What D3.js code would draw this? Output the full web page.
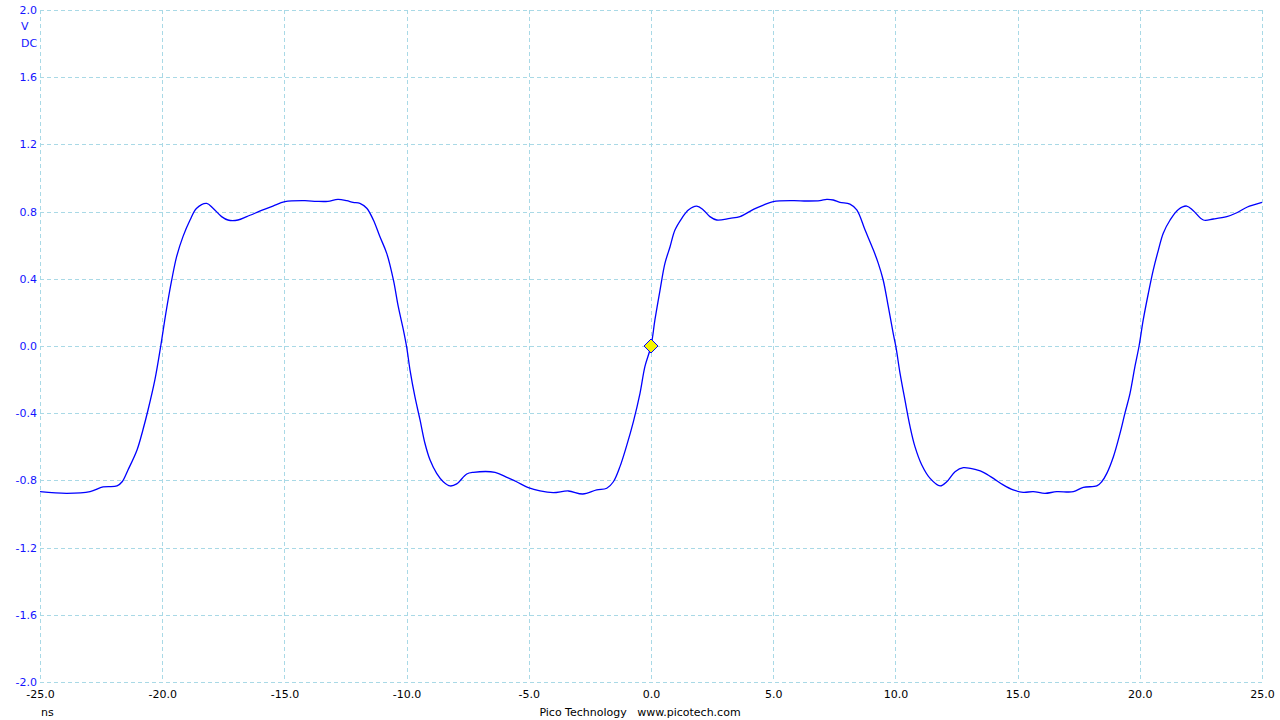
<!DOCTYPE html>
<html>
<head>
<meta charset="utf-8">
<script src="https://cdn.jsdelivr.net/npm/d3@7"></script>
<style>
  html, body { margin: 0; padding: 0; background: #ffffff; }
  svg { display: block; }
</style>
</head>
<body>
<svg id="chart" width="1280" height="720"></svg>
<script>
// ---- data ----
const timeNs = [
  -25.00, -23.90, -22.95, -22.42, -21.85, -21.64, -21.40, -21.03, -20.79, -20.58,
  -20.30, -20.06, -19.85, -19.61, -19.41, -19.15, -18.86, -18.59, -18.18, -17.92,
  -17.57, -17.31, -16.90, -16.54, -15.88, -15.47, -14.98, -14.16, -13.68, -13.22,
  -12.81, -12.45, -12.19, -11.91, -11.63, -11.36, -11.09, -10.81, -10.54, -10.34,
  -10.13, -10.00, -9.86, -9.66, -9.45, -9.25, -9.04, -8.77, -8.50, -8.22,
  -7.95, -7.54, -7.27, -6.38, -5.90, -5.50, -5.02, -4.54, -4.00, -3.38,
  -2.79, -2.22, -1.81, -1.54, -1.27, -0.99, -0.72, -0.45, -0.25, 0.00,
  0.16, 0.37, 0.57, 0.78, 0.98, 1.26, 1.53, 1.87, 2.14, 2.41,
  2.69, 3.23, 3.64, 4.19, 4.60, 5.00, 5.82, 6.37, 6.91, 7.19,
  7.46, 7.73, 8.14, 8.42, 8.76, 9.10, 9.30, 9.50, 9.71, 9.91,
  10.02, 10.19, 10.39, 10.60, 10.80, 11.08, 11.42, 11.83, 12.10, 12.44,
  12.78, 13.33, 13.60, 14.01, 14.41, 14.82, 15.23, 15.64, 16.12, 16.60,
  17.28, 17.69, 18.24, 18.44, 18.65, 18.92, 19.19, 19.39, 19.60, 19.80,
  19.97, 20.14, 20.35, 20.55, 20.76, 20.96, 21.24, 21.58, 21.92, 22.19,
  22.60, 23.01, 23.56, 23.97, 24.38, 25.00
];
const voltsV = [
  -0.867, -0.877, -0.867, -0.839, -0.833, -0.808, -0.738, -0.619, -0.500, -0.381,
  -0.202, 0.000, 0.196, 0.393, 0.532, 0.651, 0.750, 0.820, 0.849, 0.820,
  0.770, 0.750, 0.750, 0.770, 0.810, 0.833, 0.859, 0.865, 0.861, 0.861,
  0.873, 0.865, 0.855, 0.849, 0.820, 0.750, 0.650, 0.550, 0.393, 0.234,
  0.095, -0.004, -0.143, -0.302, -0.440, -0.579, -0.679, -0.758, -0.808, -0.833,
  -0.821, -0.762, -0.752, -0.752, -0.782, -0.808, -0.843, -0.863, -0.873, -0.863,
  -0.881, -0.857, -0.847, -0.808, -0.718, -0.590, -0.450, -0.282, -0.123, 0.000,
  0.155, 0.333, 0.492, 0.591, 0.690, 0.760, 0.810, 0.833, 0.810, 0.770,
  0.750, 0.760, 0.770, 0.813, 0.839, 0.859, 0.865, 0.863, 0.865, 0.873,
  0.869, 0.855, 0.845, 0.810, 0.690, 0.571, 0.492, 0.393, 0.234, 0.075,
  -0.004, -0.163, -0.321, -0.480, -0.599, -0.708, -0.788, -0.833, -0.808, -0.748,
  -0.724, -0.738, -0.752, -0.788, -0.827, -0.857, -0.871, -0.867, -0.877, -0.867,
  -0.867, -0.841, -0.833, -0.808, -0.758, -0.659, -0.520, -0.401, -0.282, -0.123,
  0.000, 0.155, 0.314, 0.452, 0.571, 0.671, 0.750, 0.813, 0.833, 0.805,
  0.750, 0.756, 0.770, 0.793, 0.826, 0.855
];
const xTicks = [-25, -20, -15, -10, -5, 0, 5, 10, 15, 20, 25];
const yTicks = [-2.0, -1.6, -1.2, -0.8, -0.4, 0.0, 0.4, 0.8, 1.2, 1.6, 2.0];
const triggerPoint = [{ t: 0.0, v: 0.0 }];
const xUnit = "ns";
const yUnits = ["V", "DC"];
const footerText = "Pico Technology   www.picotech.com";

// ---- layout ----
const svg = d3.select("#chart");
const plotL = 40, plotR = 1262, plotT = 10, plotB = 682;
const x = d3.scaleLinear().domain([-25, 25]).range([plotL, plotR]);
const y = d3.scaleLinear().domain([-2, 2]).range([plotB, plotT]);
const font = "'DejaVu Sans', Verdana, sans-serif";
const gridColor = "#a9d9e6";
const fmt = d3.formatLocale({ decimal: ".", thousands: ",", grouping: [3], currency: ["", ""], minus: "-" }).format(".1f");

// grid
const grid = svg.append("g").attr("stroke", gridColor).attr("stroke-width", 1)
  .attr("stroke-dasharray", "4,3").attr("shape-rendering", "crispEdges");
grid.selectAll("line.v").data(xTicks).join("line").attr("class", "v")
  .attr("x1", d => Math.round(x(d)) + 0.5).attr("x2", d => Math.round(x(d)) + 0.5)
  .attr("y1", plotT).attr("y2", plotB);
grid.selectAll("line.h").data(yTicks).join("line").attr("class", "h")
  .attr("y1", d => Math.round(y(d)) + 0.5).attr("y2", d => Math.round(y(d)) + 0.5)
  .attr("x1", plotL).attr("x2", plotR);

// y axis labels
const yAxis = d3.axisLeft(y).tickValues(yTicks).tickFormat(fmt).tickSize(0).tickPadding(3);
const gy = svg.append("g").attr("transform", `translate(${plotL},0)`).call(yAxis);
gy.select(".domain").remove();
gy.selectAll("text").attr("fill", "#1414ff").style("font-family", font).style("font-size", "11px");

svg.append("g").selectAll("text").data(yUnits).join("text")
  .attr("x", 21).attr("y", (d, i) => 26 + i * 17).attr("dy", "0.35em")
  .attr("fill", "#1414ff").style("font-family", font).style("font-size", "11px")
  .text(d => d);

// x axis labels
const xAxis = d3.axisBottom(x).tickValues(xTicks).tickFormat(fmt).tickSize(0).tickPadding(8);
const gx = svg.append("g").attr("transform", `translate(0,${plotB})`).call(xAxis);
gx.select(".domain").remove();
gx.selectAll("text").attr("fill", "#000000").style("font-family", font).style("font-size", "11px");

svg.append("text").attr("x", 41).attr("y", 716)
  .attr("fill", "#000").style("font-family", font).style("font-size", "11px").text(xUnit);
svg.append("text").attr("x", 640).attr("y", 716).attr("text-anchor", "middle")
  .attr("fill", "#000").style("font-family", font).style("font-size", "11px")
  .style("white-space", "pre").attr("xml:space", "preserve").text(footerText);

// waveform
const pts = timeNs.map((t, i) => ({ t, v: voltsV[i] }));
const line = d3.line().x(d => x(d.t)).y(d => y(d.v)).curve(d3.curveCatmullRom.alpha(0.5));
svg.append("path").datum(pts).attr("d", line)
  .attr("fill", "none").attr("stroke", "#0000ff").attr("stroke-width", 1.3)
  .attr("stroke-linejoin", "round");

// trigger marker
const s = 7;
svg.append("g").selectAll("path").data(triggerPoint).join("path")
  .attr("d", d => {
    const cx = x(d.t), cy = y(d.v);
    return `M${cx},${cy - s}L${cx + s},${cy}L${cx},${cy + s}L${cx - s},${cy}Z`;
  })
  .attr("fill", "#f5f500").attr("stroke", "#0000ff").attr("stroke-width", 1);
</script>
</body>
</html>
